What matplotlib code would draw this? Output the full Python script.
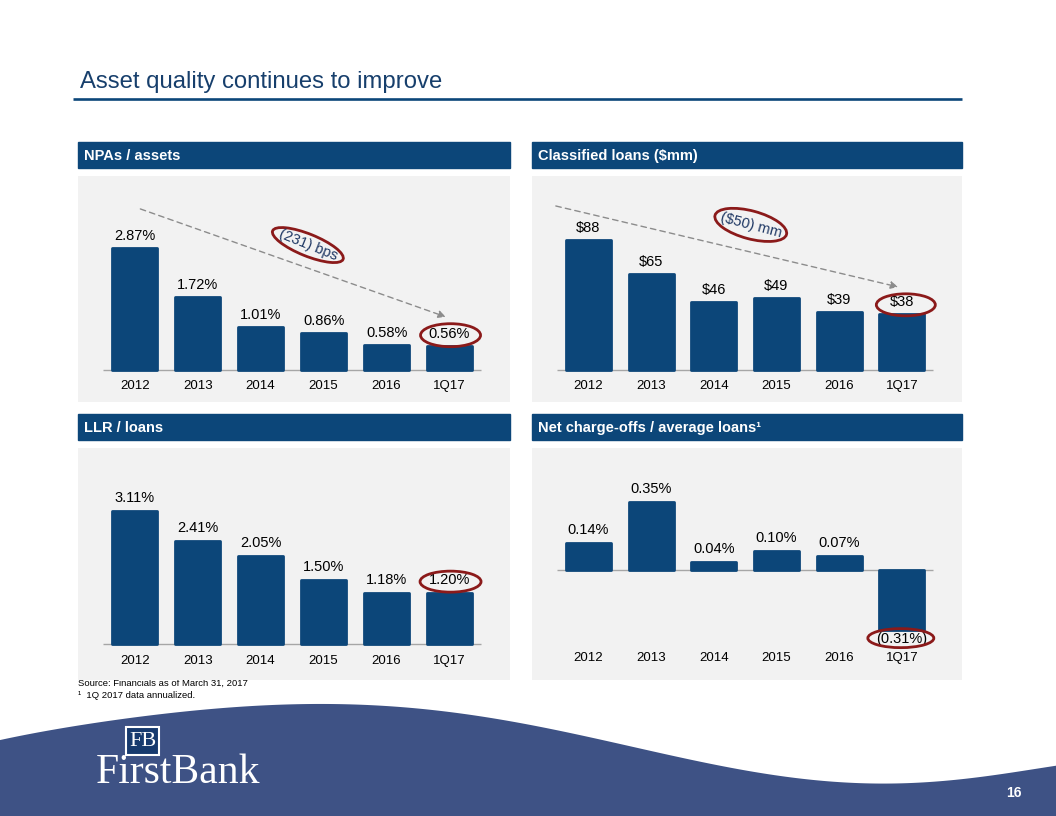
import numpy as np
import matplotlib.pyplot as plt
from matplotlib.patches import Ellipse, Rectangle, Polygon
from matplotlib.transforms import ScaledTranslation

plt.rcParams['font.family'] = ['Liberation Sans', 'DejaVu Sans']

# data
years = ['2012', '2013', '2014', '2015', '2016', '1Q17']
npa = [2.87, 1.72, 1.01, 0.86, 0.58, 0.56]
classified = [88, 65, 46, 49, 39, 38]
llr = [3.11, 2.41, 2.05, 1.50, 1.18, 1.20]
nco = [0.14, 0.35, 0.04, 0.10, 0.07, -0.31]

navy = '#0C4679'
gray_bg = '#F2F2F2'
ring_col = '#8B1A1A'
txt_navy = '#1F3864'

W, H = 1056, 816
fig = plt.figure(figsize=(W / 100, H / 100), dpi=100)


def box(x0, y0, x1, y1):
    return [x0 / W, 1 - y1 / H, (x1 - x0) / W, (y1 - y0) / H]


def pct(v):
    return '({:.2f}%)'.format(-v) if v < 0 else '{:.2f}%'.format(v)


# background layer in pixel coords
bg = fig.add_axes([0, 0, 1, 1], zorder=0)
bg.set_xlim(0, W)
bg.set_ylim(H, 0)
bg.axis('off')

bg.text(80, 88, 'Asset quality continues to improve', fontsize=17.2,
        color='#173F6C', va='baseline')
bg.plot([73, 962], [99, 99], color=navy, lw=1.9, solid_capstyle='butt')

headers = [('NPAs / assets', 78, 142, 510, 168),
           ('Classified loans ($mm)', 532, 142, 962, 168),
           ('LLR / loans', 78, 414, 510, 440),
           ('Net charge-offs / average loans\u00b9', 532, 414, 962, 440)]
for t, x0, y0, x1, y1 in headers:
    bg.add_patch(Rectangle((x0, y0), x1 - x0, y1 - y0, color=navy))
    bg.text(x0 + 6, (y0 + y1) / 2 + 1, t, color='white', fontsize=10.5,
            fontweight='bold', va='center')

# footer band (decoration)
cx = np.array([0, 70, 200, 300, 370, 470, 600, 740, 850, 920, 980, 1056])
cy = np.array([740, 727, 710, 704, 705, 715, 740, 768, 784, 783, 776, 766])
p = np.polyfit(cx / W, cy, 6)
xs = np.linspace(0, W, 200)
ys = np.polyval(p, xs / W)
pts = np.column_stack([np.r_[xs, W, 0], np.r_[ys, H, H]])
bg.add_patch(Polygon(pts, closed=True, color='#3E5285', lw=0))

bg.text(78, 683, 'Source: Financials as of March 31, 2017', fontsize=6.8,
        va='center')
bg.text(78, 695, '\u00b9  1Q 2017 data annualized.', fontsize=6.8, va='center')

# logo
bg.add_patch(Rectangle((126, 727), 33, 28, facecolor='#173A6E',
                       edgecolor='white', lw=1.5))
bg.text(142.5, 742, 'FB', family='Liberation Serif', fontsize=16,
        color='white', ha='center', va='center')
bg.text(96, 783, 'FirstBank', family='Liberation Serif', fontsize=30,
        color='white', va='baseline')
bg.text(1014, 793, '16', color='white', fontsize=10, fontweight='bold',
        ha='center', va='center')


def bar_chart(rect, vals, ylim, labels, tick_y, up=12, down=9):
    ax = fig.add_axes(box(*rect), zorder=2)
    ax.set_facecolor(gray_bg)
    x = np.arange(len(years))
    ax.bar(x, vals, width=0.72, color=navy, edgecolor=navy, lw=2,
           joinstyle='round', zorder=3)
    ax.hlines(0, -0.5, 5.5, color='#A6A6A6', lw=1, zorder=2)
    for xi, v, s in zip(x, vals, labels):
        off = up if v >= 0 else -down
        ax.annotate(s, (xi, v), xytext=(0, off), textcoords='offset pixels',
                    ha='center', va='center', fontsize=10.5)
    for xi, yr in zip(x, years):
        ax.text(xi, tick_y, yr, transform=ax.get_xaxis_transform(),
                ha='center', va='center', fontsize=9.5)
    ax.set_xlim(-0.9, 5.96)
    ax.set_ylim(*ylim)
    ax.set_xticks([])
    ax.set_yticks([])
    for s in ax.spines.values():
        s.set_visible(False)
    return ax


def ring(ax, xd, yd, dx, dy, w, h, angle=0):
    tr = fig.dpi_scale_trans + ScaledTranslation(xd, yd, ax.transData)
    ax.add_patch(Ellipse((dx / 100, dy / 100), w / 100, h / 100, angle=angle,
                         transform=tr, fill=False, ec=ring_col, lw=2,
                         zorder=6, clip_on=False))


def trend(ax, start, end):
    ax.annotate('', xy=end, xytext=start,
                arrowprops=dict(arrowstyle='-|>', color='#8C8C8C', lw=1,
                                linestyle=(0, (4, 3)), mutation_scale=11,
                                shrinkA=0, shrinkB=0), zorder=5)


ax1 = bar_chart((78, 176, 510, 402), npa, (-0.753, 4.565),
                [pct(v) for v in npa], 0.071)
trend(ax1, (0.09, 3.79), (4.94, 1.25))
ax1.text(2.75, 2.94, '(231) bps', rotation=-22, rotation_mode='anchor',
         ha='center', va='center', fontsize=10.5, color=txt_navy, zorder=7)
ring(ax1, 2.75, 2.94, 0, 0, 76, 22, -22)
ring(ax1, 5, npa[-1], 1, 11, 60, 23)

ax2 = bar_chart((532, 176, 962, 402), classified, (-21.7, 131.3),
                ['${:.0f}'.format(v) for v in classified], 0.071)
trend(ax2, (-0.52, 111), (4.94, 56.2))
ax2.text(2.59, 98.2, '($50) mm', rotation=-15, rotation_mode='anchor',
         ha='center', va='center', fontsize=10.5, color=txt_navy, zorder=7)
ring(ax2, 2.59, 98.2, 0, 0, 74, 28, -15)
ring(ax2, 5, classified[-1], 4, 9, 59, 22)

ax3 = bar_chart((78, 448, 510, 680), llr, (-0.841, 4.579),
                [pct(v) for v in llr], 0.082, up=13)
ring(ax3, 5, llr[-1], 1, 11, 61, 21)

ax4 = bar_chart((532, 448, 962, 680), nco, (-0.567, 0.629),
                [pct(v) for v in nco], 0.095, up=13, down=9)
ring(ax4, 5, nco[-1], -1, -8, 66, 19)

fig.savefig('out.png', dpi=100)
